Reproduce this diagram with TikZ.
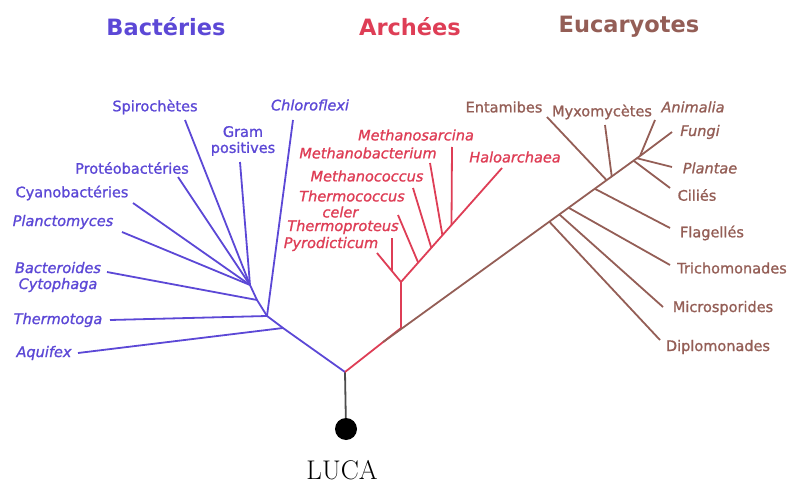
\documentclass[tikz,border=0pt]{standalone}
\usepackage{fontspec}
\setsansfont{DejaVu Sans}
\newfontfamily\taxfont{DejaVu Sans}[FakeBold=1.2]
\usetikzlibrary{calc}
\definecolor{bactcol}{RGB}{92,72,214}
\definecolor{archcol}{RGB}{222,62,86}
\definecolor{eucol}{RGB}{148,94,86}
\tikzset{taxon/.style={font=\taxfont\fontsize{14.5}{16}\selectfont,inner sep=0pt,align=center},
  taxit/.style={taxon,font=\taxfont\itshape\fontsize{14.5}{16}\selectfont},
  domtitle/.style={font=\sffamily\bfseries\fontsize{22.5}{26}\selectfont,inner sep=0pt},
  branch/.style={line width=1.8pt}}

\begin{document}
\begin{tikzpicture}[x=1pt,y=-1pt]
    \useasboundingbox (0,0) rectangle (790,484);
    % domain titles
    \node[domtitle,bactcol] (tbact) at (166,27) {Bactéries};
    \node[domtitle,archcol] (tarch) at (410,27) {Archées};
    \node[domtitle,eucol] (teuc) at (629,27) {Eucaryotes};
    % root
    \node[circle,fill,inner sep=0pt,minimum size=22pt] (luca) at (346,429) {};
    \node[font=\fontsize{27}{29}\selectfont,inner sep=0pt] (lucalab) at (342,470) {LUCA};
    \coordinate (root) at (345,372);
    \draw[branch,black!70] (luca) -- (root);

    % bacteria
    \coordinate (b1) at (283,328);
    \coordinate (b2) at (267,316);
    \coordinate (b3) at (257,300);
    \coordinate (b4) at (250,285);
    \draw[branch,bactcol] (root) -- (b1) -- (b2) -- (b3) -- (b4);
    \foreach \name/\pos in {aqu/{78,353}, thg/{110,320}, bac/{107,272}, pla/{122,232},
        cya/{133,203}, pro/{178,177}, spi/{185,120}, gra/{240,162}, chl/{293,120}}
        \coordinate (\name) at (\pos);
    \foreach \from/\to in {b1/aqu, b2/thg, b2/chl, b3/bac, b4/pla, b4/cya, b4/pro, b4/spi, b4/gra}
        \draw[branch,bactcol] (\from) -- (\to);
    \node[taxon,bactcol] (lspi) at (155,107) {Spirochètes};
    \node[taxon,bactcol] (lgra) at (243,141) {Gram\\positives};
    \node[taxit,bactcol] (lchl) at (310,105) {Chloroflexi};
    \node[taxon,bactcol] (lpro) at (132,168) {Protéobactéries};
    \node[taxon,bactcol] (lcya) at (72,193) {Cyanobactéries};
    \node[taxit,bactcol] (lpla) at (63,222) {Planctomyces};
    \node[taxit,bactcol] (lbac) at (58,277) {Bacteroides\\Cytophaga};
    \node[taxit,bactcol] (lthg) at (58,320) {Thermotoga};
    \node[taxit,bactcol] (laqu) at (44,353) {Aquifex};

    % archaea
    \coordinate (a0) at (401,328);
    \coordinate (a1) at (401,282);
    \coordinate (pyr) at (377,253);
    \coordinate (hal) at (502,168);
    \coordinate (p1) at ($(a1)!0.375!(pyr)$);
    \draw[branch,archcol] (root) -- (a0) -- (a1) -- (pyr);
    \draw[branch,archcol] (a1) -- (hal);
    \draw[branch,archcol] (p1) -- (392,238) coordinate (thp);
    \foreach \t/\name/\pos in {0.17/thc/{398,215}, 0.30/mco/{413,188}, 0.41/mba/{430,163}, 0.50/msa/{452,147}}
        \draw[branch,archcol] ($(a1)!\t!(hal)$) -- (\pos) coordinate (\name);
    \node[taxit,archcol] (lmsa) at (416,135) {Methanosarcina};
    \node[taxit,archcol] (lmba) at (368,153) {Methanobacterium};
    \node[taxit,archcol] (lmco) at (367,176) {Methanococcus};
    \node[taxit,archcol] (lthc) at (352,204) {Thermococcus\\\hspace*{-1.6em}celer};
    \node[taxit,archcol] (lthp) at (343,227) {Thermoproteus};
    \node[taxit,archcol] (lpyr) at (331,244) {Pyrodicticum};
    \node[taxit,archcol] (lhal) at (515,157) {Haloarchaea};

    % eukaryotes
    \coordinate (e0) at ($(root)!0.68!(a0)$);
    \coordinate (etop) at (640,156);
    \draw[branch,eucol] (e0) -- (etop);
    \foreach \t/\name/\pos in {0.647/dip/{660,340}, 0.686/mic/{663,307}, 0.722/tri/{670,265},
        0.824/fla/{670,228}, 0.87/ent/{547,117}, 0.89/myx/{605,125}, 0.975/cil/{670,188}, 0.988/pln/{672,167}}
        \draw[branch,eucol] ($(e0)!\t!(etop)$) -- (\pos) coordinate (\name);
    \draw[branch,eucol] (etop) -- (672,132) coordinate (fun);
    \draw[branch,eucol] (etop) -- (655,120) coordinate (ani);
    \node[taxon,eucol] (lent) at (504,107) {Entamibes};
    \node[taxon,eucol] (lmyx) at (602,112) {Myxomycètes};
    \node[taxit,eucol] (lani) at (693,107) {Animalia};
    \node[taxit,eucol] (lfun) at (700,132) {Fungi};
    \node[taxit,eucol] (lpln) at (710,168) {Plantae};
    \node[taxon,eucol] (lcil) at (697,195) {Ciliés};
    \node[taxon,eucol] (lfla) at (712,233) {Flagellés};
    \node[taxon,eucol] (ltri) at (732,268) {Trichomonades};
    \node[taxon,eucol] (lmic) at (723,308) {Microsporides};
    \node[taxon,eucol] (ldip) at (718,347) {Diplomonades};
\end{tikzpicture}
\end{document}
